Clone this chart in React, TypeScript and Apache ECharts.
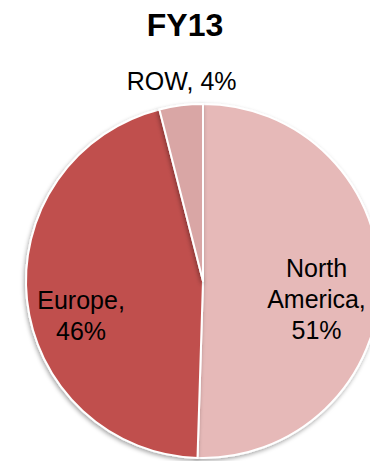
import React, { useEffect, useRef } from "react";
import * as echarts from "echarts";

const titleText = "FY13";
const regions = ["North America", "Europe", "ROW"];
const labelNames = ["North\nAmerica", "Europe", "ROW"];
const shares = [51, 46, 4];
const colors = ["#E6B9B8", "#C0504D", "#D9A6A5"];
const labelOffsets = [
  [22, 17],
  [-31, 25],
  [-10, -109],
];

export default function App() {
  const ref = useRef<HTMLDivElement>(null);
  useEffect(() => {
    if (!ref.current) return;
    const chart = echarts.init(ref.current, null, { renderer: "svg" });
    chart.setOption({
      animation: false,
      backgroundColor: "#ffffff",
      title: {
        text: titleText,
        left: "center",
        top: 4,
        textStyle: {
          fontFamily: "Liberation Sans, Arial, sans-serif",
          fontSize: 32,
          fontWeight: "bold",
          color: "#000000",
        },
      },
      series: [
        {
          type: "pie",
          center: [203, 281],
          radius: [0, 177],
          startAngle: 90,
          clockwise: true,
          silent: true,
          itemStyle: {
            borderColor: "#ffffff",
            borderWidth: 2,
            shadowBlur: 4,
            shadowColor: "rgba(0,0,0,0.35)",
            shadowOffsetX: -1,
            shadowOffsetY: 2,
          },
          label: {
            show: true,
            position: "inside",
            fontFamily: "Liberation Sans, Arial, sans-serif",
            fontSize: 25,
            lineHeight: 31,
            color: "#000000",
            align: "center",
            formatter: (p: any) =>
              p.dataIndex === 2
                ? `${labelNames[p.dataIndex]}, ${p.value}%`
                : `${labelNames[p.dataIndex]},\n${p.value}%`,
          },
          labelLine: { show: false },
          labelLayout: (p: any) => ({
            dx: labelOffsets[p.dataIndex][0],
            dy: labelOffsets[p.dataIndex][1],
          }),
          data: regions.map((name, i) => ({
            name,
            value: shares[i],
            itemStyle: { color: colors[i] },
          })),
        },
      ],
    });
    return () => chart.dispose();
  }, []);
  return (
    <div
      ref={ref}
      style={{ position: "fixed", left: 0, top: 0, width: 370, height: 461 }}
    />
  );
}
